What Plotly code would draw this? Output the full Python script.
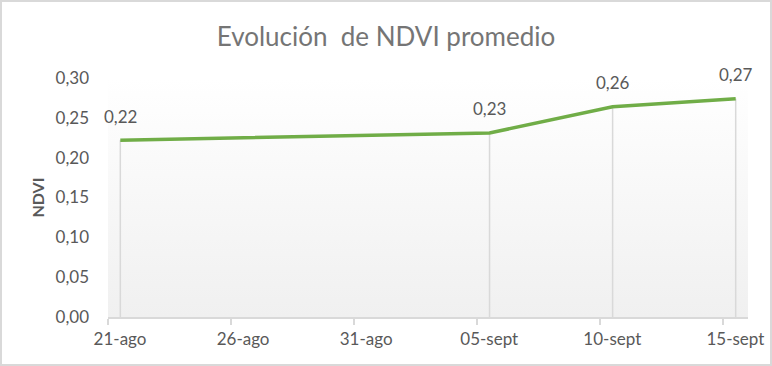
import plotly.graph_objects as go
import pandas as pd

# ---- data ----
dates = ["2021-08-21", "2021-09-05", "2021-09-10", "2021-09-15"]
ndvi = [0.222, 0.231, 0.264, 0.274]
tick_dates = ["2021-08-21", "2021-08-26", "2021-08-31", "2021-09-05", "2021-09-10", "2021-09-15"]
tick_labels = ["21-ago", "26-ago", "31-ago", "05-sept", "10-sept", "15-sept"]
x_range = ["2021-08-21", "2021-09-16"]
y_range = [0, 0.30]

title_text = "Evolución  de NDVI promedio"
y_title = "NDVI"

W, H = 772, 366
ML, MR, MT, MB = 108, 24, 78, 49
FONT = "Lato"
TXT = "#595959"
GRID = "#d9d9d9"
GREEN = "#70ad47"

# points sit in the middle of each day on a date axis
xs = [pd.Timestamp(d) + pd.Timedelta(hours=12) for d in dates]

fig = go.Figure()

# plot-area gradient background
fig.add_trace(go.Scatter(
    x=[x_range[0], x_range[1], x_range[1], x_range[0], x_range[0]],
    y=[y_range[0], y_range[0], y_range[1], y_range[1], y_range[0]],
    mode="lines", line=dict(width=0), fill="toself",
    fillgradient=dict(type="vertical", colorscale=[[0, "#f0f0f0"], [1, "#ffffff"]]),
    hoverinfo="skip", showlegend=False,
))

# drop lines
dx, dy = [], []
for x, v in zip(xs, ndvi):
    dx += [x, x, None]
    dy += [0, v, None]
fig.add_trace(go.Scatter(x=dx, y=dy, mode="lines",
                         line=dict(color=GRID, width=1.5),
                         hoverinfo="skip", showlegend=False))

# main line
fig.add_trace(go.Scatter(x=xs, y=ndvi, mode="lines",
                         line=dict(color=GREEN, width=3.5),
                         showlegend=False))

# data labels
for x, v in zip(xs, ndvi):
    fig.add_annotation(x=x, y=v, text=f"{v:.2f}".replace(".", ","),
                       showarrow=False, yshift=24, yanchor="middle",
                       font=dict(family=FONT, size=17, color=TXT))

# chart border
pw, ph = W - ML - MR, H - MT - MB
fig.add_shape(type="rect", xref="paper", yref="paper",
              x0=(1 - ML) / pw, x1=(W - 1 - ML) / pw,
              y0=-(MB - 1) / ph, y1=(H - MB - 1) / ph,
              line=dict(color=GRID, width=2), layer="below")

fig.update_layout(
    width=W, height=H,
    margin=dict(l=ML, r=MR, t=MT, b=MB, autoexpand=False),
    paper_bgcolor="white", plot_bgcolor="white",
    separators=",.",
    title=dict(text=title_text, x=0.5, xref="container", xanchor="center",
               y=1 - 37 / H, yref="container", yanchor="middle",
               font=dict(family=FONT, size=26, color="#757575")),
    xaxis=dict(type="date", range=x_range, tickvals=tick_dates, ticktext=tick_labels,
               automargin=False,
               ticks="outside", ticklen=6, tickcolor=GRID, tickwidth=1.5,
               ticklabelshift=12,
               showline=True, linecolor=GRID, linewidth=1.5,
               showgrid=False, zeroline=False,
               tickfont=dict(family=FONT, size=17, color=TXT)),
    yaxis=dict(range=y_range, dtick=0.05, tickformat=".2f",
               automargin=False,
               showgrid=False, zeroline=False, showline=False, ticks="",
               ticklabelstandoff=18,
               tickfont=dict(family=FONT, size=17, color=TXT),
               title=dict(text=y_title, standoff=6,
                          font=dict(family=FONT, size=16, color=TXT, weight="bold"))),
)

fig.write_html("out.html", config={"displayModeBar": False},
               post_script="document.body.style.margin='0';document.body.style.padding='0';")
